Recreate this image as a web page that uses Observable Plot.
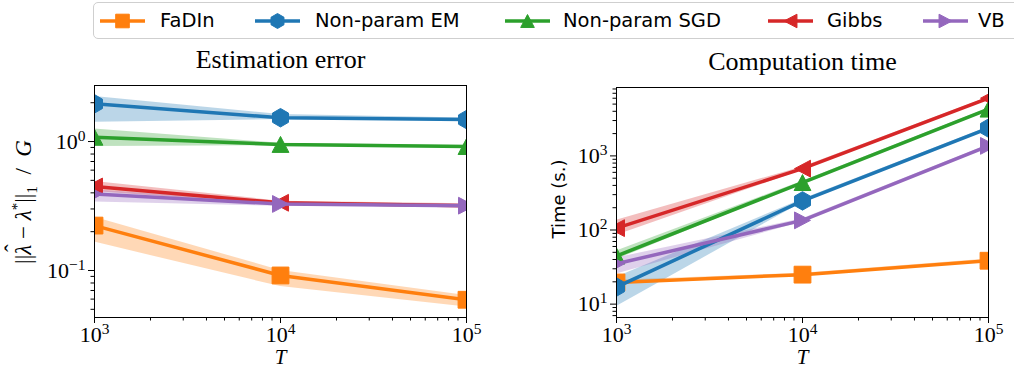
<!DOCTYPE html>
<html>
<head>
<meta charset="utf-8">
<script src="https://cdn.jsdelivr.net/npm/d3@7"></script>
<script src="https://cdn.jsdelivr.net/npm/@observablehq/plot@0.6"></script>
<style>
  body { margin: 0; background: #fff; }
  #root { position: relative; width: 1014px; height: 368px; overflow: hidden; background: #fff; }
  .panel { position: absolute; top: 40px; }
  #legend { position: absolute; left: 93px; top: 2px; width: 940px; height: 37px; box-sizing: border-box;
            border: 1px solid #cfcfcf; border-radius: 5px; background: #fff; }
  .lg-sym { position: absolute; top: 0; }
  .lg-txt { position: absolute; top: 0; line-height: 36px; font-family: "DejaVu Sans"; font-size: 19.5px; color: #000; white-space: nowrap; }
  .ylab { position: absolute; transform: translate(-50%, -50%) rotate(-90deg); white-space: nowrap; color: #000; }
  .hat { position: relative; display: inline-block; }
  .hat .h { position: absolute; left: 0.12em; top: -0.42em; font-style: normal; }
</style>
</head>
<body>
<div id="root">
  <div id="legend"></div>
</div>
<script>
// ---- data ----
const T = [1e3, 1e4, 1e5];
const methods = ["FaDIn", "Non-param EM", "Non-param SGD", "Gibbs", "VB"];
const colors = ["#ff7f0e", "#1f77b4", "#2ca02c", "#d62728", "#9467bd"];

// Estimation error (mean, lower, upper), per method over T
const errorMean = [
  [0.223, 0.0915, 0.0593],
  [1.96, 1.53, 1.48],
  [1.08, 0.95, 0.915],
  [0.448, 0.335, 0.318],
  [0.392, 0.328, 0.318]
];
const errorLow = [
  [0.166, 0.075, 0.052],
  [1.41, 1.48, 1.45],
  [0.915, 0.93, 0.90],
  [0.41, 0.32, 0.31],
  [0.34, 0.315, 0.31]
];
const errorHigh = [
  [0.259, 0.100, 0.064],
  [2.23, 1.62, 1.52],
  [1.25, 0.97, 0.93],
  [0.49, 0.345, 0.33],
  [0.42, 0.34, 0.328]
];

// Computation time (s.)
const timeMean = [
  [19.6, 25, 38.5],
  [17, 247, 2370],
  [44.6, 437, 4280],
  [106, 673, 6000],
  [35, 135, 1365]
];
const timeLow = [
  [18.5, 24, 37],
  [9.3, 235, 2300],
  [40, 420, 4150],
  [85, 640, 5800],
  [25.5, 128, 1320]
];
const timeHigh = [
  [21, 26, 40.5],
  [23, 260, 2450],
  [52, 455, 4400],
  [135, 710, 6200],
  [42, 142, 1410]
];

const xMajor = [1e3, 1e4, 1e5];
const xMinor = [2e3,3e3,4e3,5e3,6e3,7e3,8e3,9e3,2e4,3e4,4e4,5e4,6e4,7e4,8e4,9e4];
const errYMajor = [0.1, 1];
const errYMinor = [0.05,0.06,0.07,0.08,0.09,0.2,0.3,0.4,0.5,0.6,0.7,0.8,0.9,2];
const timeYMajor = [10, 100, 1000];
const timeYMinor = [7,8,9,20,30,40,50,60,70,80,90,200,300,400,500,600,700,800,900,2000,3000,4000,5000,6000,7000,8000];

// ---- symbols (matplotlib-like) ----
function poly(ctx, pts) { ctx.moveTo(pts[0][0], pts[0][1]); for (let k = 1; k < pts.length; k++) ctx.lineTo(pts[k][0], pts[k][1]); ctx.closePath(); }
const symSquare = { draw(ctx, size) { const r = Math.sqrt(size / Math.PI); poly(ctx, [[-r,-r],[r,-r],[r,r],[-r,r]]); } };
const symHex = { draw(ctx, size) { const R = Math.sqrt(size / Math.PI) * 1.1; const p = []; for (let k = 0; k < 6; k++) { const a = -Math.PI/2 + k*Math.PI/3; p.push([R*Math.cos(a), R*Math.sin(a)]); } poly(ctx, p); } };
const symTriUp = { draw(ctx, size) { const r = Math.sqrt(size / Math.PI); poly(ctx, [[0,-r*0.95],[r,r*0.95],[-r,r*0.95]]); } };
const symTriLeft = { draw(ctx, size) { const r = Math.sqrt(size / Math.PI); poly(ctx, [[-r*0.95,0],[r*0.95,-r],[r*0.95,r]]); } };
const symTriRight = { draw(ctx, size) { const r = Math.sqrt(size / Math.PI); poly(ctx, [[r*0.95,0],[-r*0.95,-r],[-r*0.95,r]]); } };
const symbols = [symSquare, symHex, symTriUp, symTriLeft, symTriRight];

const serif = "Liberation Serif";

function rowsFor(mean, lo, hi) {
  return methods.flatMap((m, i) => T.map((t, j) => ({ method: m, idx: i, T: t, mean: mean[i][j], lo: lo[i][j], hi: hi[i][j] })));
}

function fmtPow(d) { return "10^" + Math.round(Math.log10(d)); }

function panel(rows, o) {
  const marks = [];
  methods.forEach((m, i) => {
    const d = rows.filter(r => r.idx === i);
    marks.push(Plot.areaY(d, { x: "T", y1: "lo", y2: "hi", fill: colors[i], fillOpacity: 0.3, clip: true }));
  });
  methods.forEach((m, i) => {
    const d = rows.filter(r => r.idx === i);
    marks.push(Plot.line(d, { x: "T", y: "mean", stroke: colors[i], strokeWidth: 3.5, clip: true }));
    marks.push(Plot.dot(d, { x: "T", y: "mean", symbol: symbols[i], r: 8.4, fill: colors[i], stroke: colors[i], strokeWidth: 1, clip: true }));
  });
  marks.push(Plot.axisX(xMajor, { tickSize: 6, tickPadding: 3, tickFormat: fmtPow, fontSize: 22, fontFamily: serif, label: null }));
  marks.push(Plot.axisX(xMinor, { tickSize: 3.5, tickFormat: () => "", label: null }));
  marks.push(Plot.axisY(o.yMajor, { tickSize: 6, tickPadding: 3, tickFormat: fmtPow, fontSize: 22, fontFamily: serif, label: null }));
  marks.push(Plot.axisY(o.yMinor, { tickSize: 3.5, tickFormat: () => "", label: null }));
  marks.push(Plot.frame({ stroke: "#000", strokeWidth: 1 }));
  marks.push(Plot.text([o.title], { text: d => d, frameAnchor: "top", dy: -26, fontSize: 26, fontFamily: serif, lineAnchor: "middle" }));
  marks.push(Plot.text(["T"], { text: d => d, frameAnchor: "bottom", dy: 40, fontSize: 21, fontFamily: serif, fontStyle: "italic", lineAnchor: "middle" }));
  const svg = Plot.plot({
    width: o.width, height: 328,
    marginLeft: o.ml, marginRight: o.mr, marginTop: o.mt, marginBottom: o.mb,
    x: { type: "log", domain: [1e3, 1e5] },
    y: { type: "log", domain: o.yDomain },
    style: { background: "transparent", color: "#000", fontFamily: serif, fontSize: "22px", overflow: "visible" },
    marks
  });
  // superscript exponents in tick labels
  svg.querySelectorAll("text").forEach(t => {
    const m = /^10\^(-?\d+)$/.exec(t.textContent);
    if (!m) return;
    const exp = m[1].replace("-", "\u2212");
    t.textContent = "";
    t.setAttribute("font-size", "22");
    t.setAttribute("font-family", serif);
    const ns = "http://www.w3.org/2000/svg";
    const a = document.createElementNS(ns, "tspan"); a.textContent = "10";
    a.setAttribute("font-size", "22px");
    const b = document.createElementNS(ns, "tspan"); b.textContent = exp;
    b.setAttribute("dy", "-8"); b.setAttribute("font-size", "15.5px");
    t.appendChild(a); t.appendChild(b);
  });
  return svg;
}

const root = document.getElementById("root");

const left = panel(rowsFor(errorMean, errorLow, errorHigh), {
  width: 500, ml: 94, mr: 34, mt: 45, mb: 51,
  yDomain: [0.0432, 2.72], yMajor: errYMajor, yMinor: errYMinor, title: "Estimation error"
});
left.classList.add("panel"); left.style.left = "0px";
root.appendChild(left);

const right = panel(rowsFor(timeMean, timeLow, timeHigh), {
  width: 494, ml: 96, mr: 26, mt: 47, mb: 51,
  yDomain: [6.6, 8375], yMajor: timeYMajor, yMinor: timeYMinor, title: "Computation time"
});
right.classList.add("panel"); right.style.left = "520px";
root.appendChild(right);

// y labels
const yl = document.createElement("div");
yl.className = "ylab";
yl.style.left = "25px"; yl.style.top = "202px";
yl.style.fontFamily = serif; yl.style.fontSize = "23px";
yl.innerHTML = "||<span class='hat'><i>\u03BB</i><span class='h'>\u02C6</span></span> \u2212 <i>\u03BB</i><sup style='font-size:0.65em'>*</sup>||<sub style='font-size:0.65em'>1</sub>&nbsp;&nbsp;/&nbsp;&nbsp;<i>G</i>";
root.appendChild(yl);

const yr = document.createElement("div");
yr.className = "ylab";
yr.style.left = "558px"; yr.style.top = "199px";
yr.style.fontFamily = "DejaVu Sans"; yr.style.fontSize = "18px";
yr.textContent = "Time (s.)";
root.appendChild(yr);

// legend
const legend = document.getElementById("legend");
const lineX = [100, 255, 505, 768, 923];
const textX = [160, 315, 563, 827, 978];
const lgLeft = 94;
methods.forEach((m, i) => {
  const s = d3.create("svg").attr("class", "lg-sym").attr("width", 46).attr("height", 36)
    .style("left", (lineX[i] - lgLeft) + "px");
  s.append("line").attr("x1", 0).attr("x2", 45).attr("y1", 18).attr("y2", 18)
    .attr("stroke", colors[i]).attr("stroke-width", 3.5);
  s.append("path").attr("transform", "translate(22.5,18)")
    .attr("d", d3.symbol(symbols[i], Math.PI * 6.8 * 6.8)())
    .attr("fill", colors[i]).attr("stroke", colors[i]);
  legend.appendChild(s.node());
  const t = document.createElement("div");
  t.className = "lg-txt";
  t.style.left = (textX[i] - lgLeft) + "px";
  t.textContent = m;
  legend.appendChild(t);
});
</script>
</body>
</html>
